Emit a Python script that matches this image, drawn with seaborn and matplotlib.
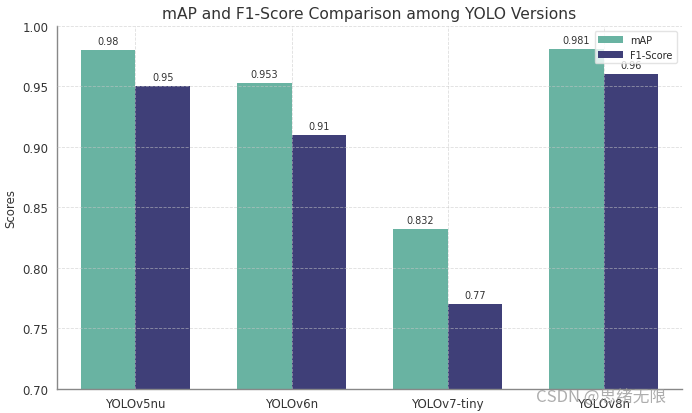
import matplotlib
matplotlib.use("Agg")
import matplotlib.pyplot as plt
import seaborn as sns
import pandas as pd

models = ["YOLOv5nu", "YOLOv6n", "YOLOv7-tiny", "YOLOv8n"]
map_vals = [0.98, 0.953, 0.832, 0.981]
f1_vals = [0.95, 0.91, 0.77, 0.96]
map_labels = ["0.98", "0.953", "0.832", "0.981"]
f1_labels = ["0.95", "0.91", "0.77", "0.96"]

df = pd.DataFrame({
    "Model": models * 2,
    "Metric": ["mAP"] * 4 + ["F1-Score"] * 4,
    "Score": map_vals + f1_vals,
})

sns.set_style("white")
plt.rcParams['font.family'] = ['DejaVu Sans', 'Noto Sans CJK SC']

fig, ax = plt.subplots(figsize=(6.92, 4.14), dpi=100)
palette = {"mAP": "#69b3a2", "F1-Score": "#3f3f78"}
sns.barplot(data=df, x="Model", y="Score", hue="Metric", palette=palette,
            width=0.7, ax=ax, saturation=1, linewidth=0)

for cont, labels in zip(ax.containers, [map_labels, f1_labels]):
    ax.bar_label(cont, labels=labels, padding=3, fontsize=7, color="#333333")

ax.set_ylim(0.70, 1.00)
ax.set_xlim(-0.5, 3.5)
ax.set_title("mAP and F1-Score Comparison among YOLO Versions", fontsize=11.2, color="#333333")
ax.set_ylabel("Scores", fontsize=8.5, color="#333333")
ax.set_xlabel("")
ax.tick_params(axis="both", labelsize=8.5, colors="#333333", length=3)
ax.tick_params(axis="x", length=2)
ax.grid(True, linestyle="--", color="#c8c8c8", linewidth=0.6, alpha=0.6)
ax.set_axisbelow(False)
for s in ["top", "right"]:
    ax.spines[s].set_visible(False)
for s in ["left", "bottom"]:
    ax.spines[s].set_color("#888888")
    ax.spines[s].set_linewidth(1.0)

leg = ax.legend(loc="upper right", fontsize=7, frameon=True, title=None,
                handlelength=2.5)
leg.get_frame().set_edgecolor("#dddddd")

fig.text(0.775, 0.03, "CSDN @思绪无限", fontsize=12, color="#999999", alpha=0.8,
         family=['Noto Sans CJK SC', 'DejaVu Sans'])

fig.subplots_adjust(left=0.083, right=0.985, top=0.935, bottom=0.058)
fig.savefig("out.png", dpi=100)
